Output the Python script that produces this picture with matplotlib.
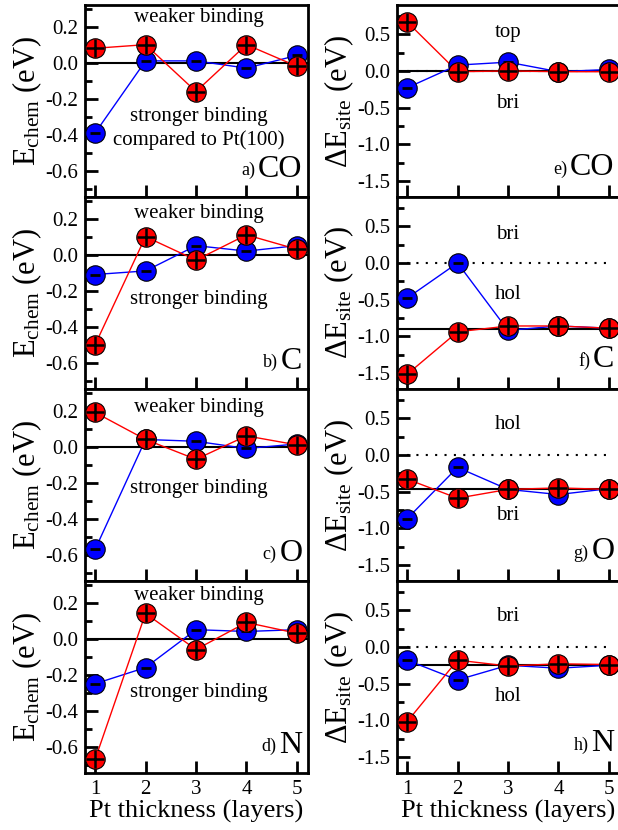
import matplotlib

matplotlib.use("Agg")

import matplotlib.pyplot as plt
from matplotlib.ticker import MultipleLocator
from matplotlib.transforms import offset_copy

plt.rcParams["font.family"] = ["Liberation Serif", "DejaVu Serif"]
plt.rcParams["mathtext.fontset"] = "custom"
plt.rcParams["mathtext.rm"] = "Liberation Serif"
plt.rcParams["mathtext.it"] = "Liberation Serif:italic"
plt.rcParams["axes.unicode_minus"] = False

layers = [1, 2, 3, 4, 5]
adsorbates = ["CO", "C", "O", "N"]

# E_chem, relative to Pt(100)
chem_minus = [
    [-0.39, 0.01, 0.01, -0.03, 0.04],
    [-0.11, -0.09, 0.05, 0.02, 0.05],
    [-0.57, 0.04, 0.03, -0.01, 0.015],
    [-0.25, -0.16, 0.05, 0.04, 0.05],
]
chem_plus = [
    [0.08, 0.10, -0.16, 0.10, -0.02],
    [-0.50, 0.10, -0.03, 0.11, 0.03],
    [0.19, 0.04, -0.07, 0.06, 0.01],
    [-0.67, 0.14, -0.06, 0.09, 0.03],
]

# Delta E_site
site_minus = [
    [-0.23, 0.08, 0.12, -0.01, 0.02],
    [-0.48, 0.0, -0.92, -0.86, -0.89],
    [-0.87, -0.17, -0.47, -0.54, -0.46],
    [-0.18, -0.45, -0.25, -0.29, -0.25],
]
site_plus = [
    [0.67, -0.01, 0.0, -0.01, -0.01],
    [-1.52, -0.94, -0.86, -0.86, -0.89],
    [-0.33, -0.59, -0.47, -0.45, -0.47],
    [-1.02, -0.18, -0.26, -0.23, -0.24],
]
site_ref = [-0.005, -0.90, -0.46, -0.25]

chem_letters = ["a)", "b)", "c)", "d)"]
site_letters = ["e)", "f)", "g)", "h)"]
site_upper = ["top", "bri", "hol", "bri"]
site_lower = ["bri", "hol", "bri", "hol"]
site_upper_y = [0.53, 0.39, 0.42, 0.41]
site_lower_y = [-0.44, -0.43, -0.82, -0.68]
weaker_y = [0.25, 0.23, 0.22, 0.24]
stronger_y = [-0.30, -0.25, -0.23, -0.30]


def draw_series(ax, y_minus, y_plus):
    ax.plot(layers, y_minus, "-", color="blue", lw=1.0, zorder=2)
    ax.plot(layers, y_plus, "-", color="red", lw=1.0, zorder=2)
    ax.plot(layers, y_minus, "o", ms=14, mfc="blue", mec="black", mew=0.8, zorder=3)
    ax.plot(layers, y_minus, "_", ms=7, mec="black", mew=2.0, zorder=4)
    ax.plot(layers, y_plus, "o", ms=14, mfc="red", mec="black", mew=0.8, zorder=5)
    ax.plot(layers, y_plus, "+", ms=12.5, mec="black", mew=1.8, zorder=6)


def style_axis(ax, major, minor, ylim, show_x):
    ax.set_xlim(0.8, 5.22)
    ax.set_ylim(*ylim)
    ax.set_xticks(layers)
    ax.yaxis.set_major_locator(MultipleLocator(major))
    ax.yaxis.set_minor_locator(MultipleLocator(minor))
    ax.tick_params(axis="both", which="major", direction="in", length=9, width=2,
                   labelsize=15, top=False, right=False, pad=5)
    ax.tick_params(axis="y", which="minor", direction="in", length=5, width=2,
                   right=False)
    ax.tick_params(axis="x", which="minor", bottom=False, top=False)
    for spine in ax.spines.values():
        spine.set_linewidth(2)
    if not show_x:
        ax.tick_params(axis="x", labelbottom=False)


def panel_tag(ax, y, letter, name):
    big = ax.text(5.11, y, name, ha="right", va="center", fontsize=23)
    fig.canvas.draw()
    box = big.get_window_extent()
    x0, _ = ax.transData.inverted().transform((box.x0, 0))
    trans = offset_copy(ax.transData, fig=fig, x=-2, y=-1, units="points")
    ax.text(x0, y, letter, ha="right", va="center", fontsize=13, transform=trans)


fig = plt.figure(figsize=(6.18, 8.30), dpi=100)
left_x, right_x, ax_w = 85 / 618, 397 / 618, 223 / 618
row_h = 192 / 830
top = 1 - 5 / 830

for i, name in enumerate(adsorbates):
    bottom = top - (i + 1) * row_h
    show_x = i == len(adsorbates) - 1

    ax = fig.add_axes([left_x, bottom, ax_w, row_h])
    ax.axhline(0.0, color="black", lw=1.5, zorder=1)
    draw_series(ax, chem_minus[i], chem_plus[i])
    style_axis(ax, 0.2, 0.1, (-0.745, 0.32), show_x)
    ax.set_ylabel(r"E$_{\mathrm{chem}}$ (eV)", fontsize=22, labelpad=1)
    ax.text(3.05, weaker_y[i], "weaker binding", ha="center", va="center", fontsize=15)
    ax.text(3.05, stronger_y[i], "stronger binding", ha="center", va="center", fontsize=15)
    if i == 0:
        ax.text(3.05, -0.43, "compared to Pt(100)", ha="center", va="center", fontsize=15)
    panel_tag(ax, -0.59, chem_letters[i], name)
    if show_x:
        ax.set_xlabel("Pt thickness (layers)", fontsize=19, labelpad=1)

    ax2 = fig.add_axes([right_x, bottom, ax_w, row_h])
    ax2.plot([1, 5], [0.0, 0.0], ls=(0, (1, 3.5)), color="black", lw=1.5, zorder=1)
    ax2.axhline(site_ref[i], color="black", lw=1.5, zorder=1)
    draw_series(ax2, site_minus[i], site_plus[i])
    style_axis(ax2, 0.5, 0.25, (-1.72, 0.9), show_x)
    ax2.set_ylabel(r"$\Delta$E$_{\mathrm{site}}$ (eV)", fontsize=22, labelpad=1)
    ax2.text(3.0, site_upper_y[i], site_upper[i], ha="center", va="center", fontsize=15)
    ax2.text(3.0, site_lower_y[i], site_lower[i], ha="center", va="center", fontsize=15)
    panel_tag(ax2, -1.32, site_letters[i], name)
    if show_x:
        ax2.set_xlabel("Pt thickness (layers)", fontsize=19, labelpad=1)

fig.savefig("out.png", dpi=100)
plt.close(fig)
